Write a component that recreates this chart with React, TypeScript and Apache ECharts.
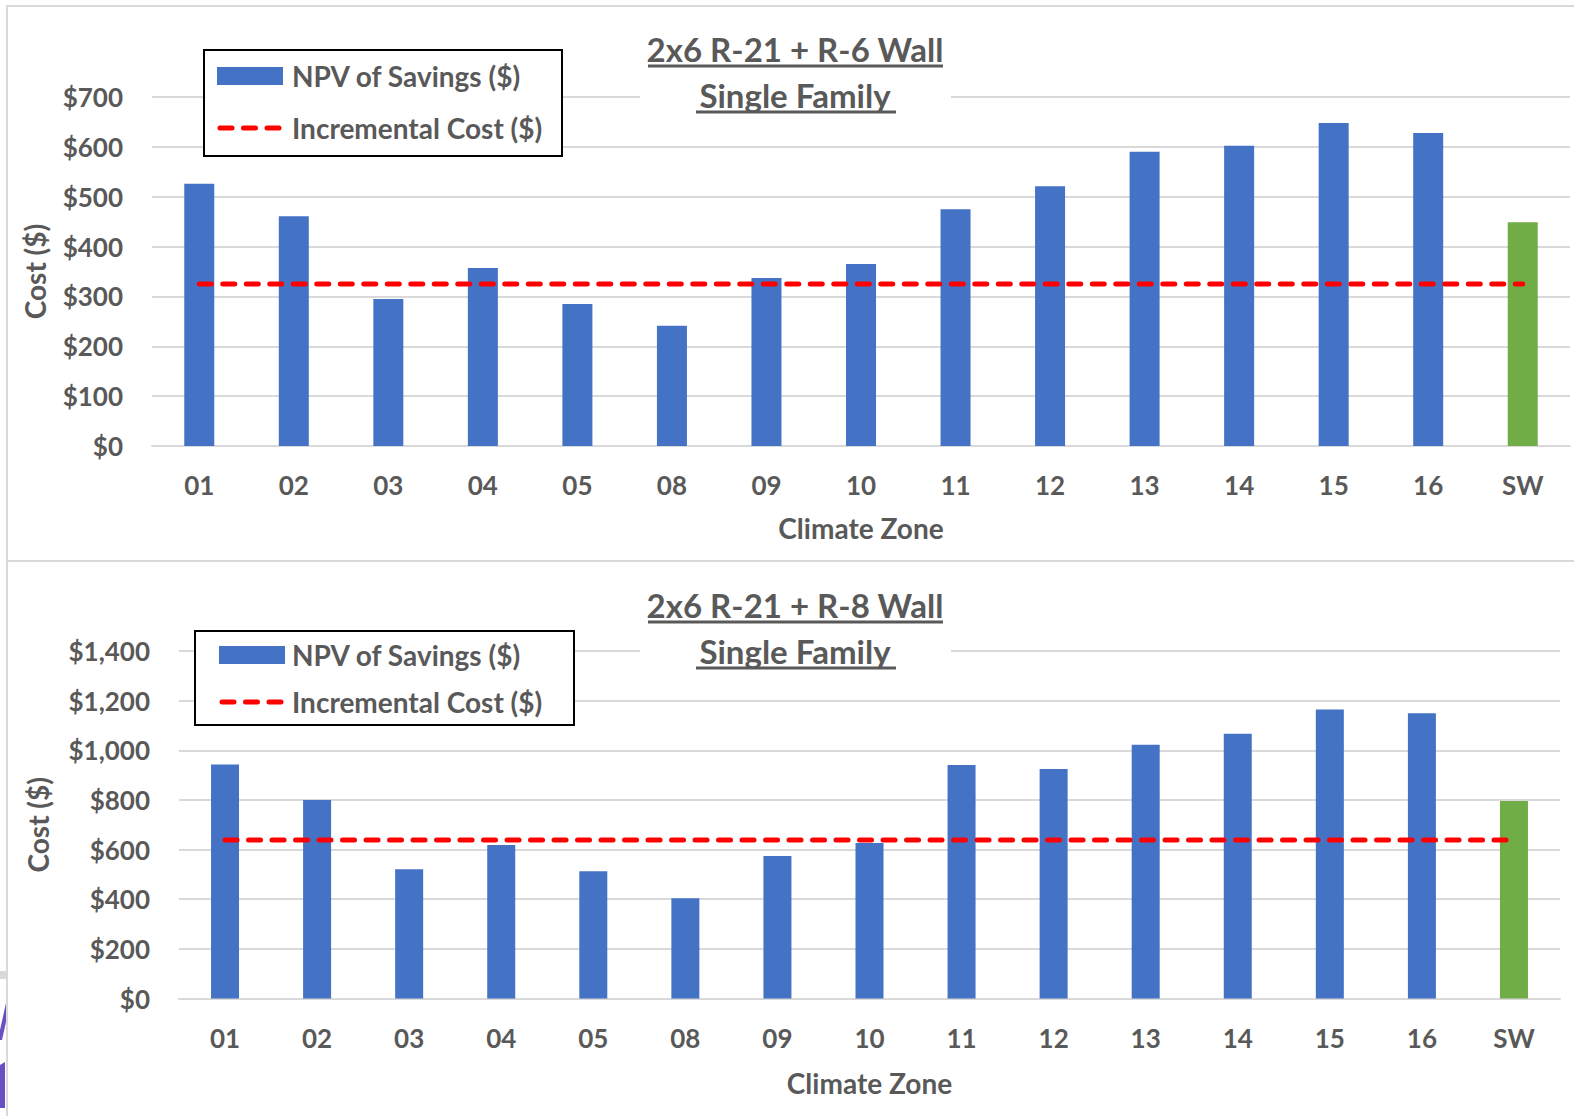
import React, { useEffect, useRef } from 'react';
import * as echarts from 'echarts';

const categories = ['01', '02', '03', '04', '05', '08', '09', '10', '11', '12', '13', '14', '15', '16', 'SW'];

const npvR6 = [526, 461, 295, 357, 285, 241, 337, 365, 475, 521, 590, 602, 648, 628, 449];
const costR6 = [325, 325, 325, 325, 325, 325, 325, 325, 325, 325, 325, 325, 325, 325, 325];

const npvR8 = [943, 800, 521, 618, 513, 404, 574, 626, 941, 925, 1022, 1067, 1164, 1149, 796];
const costR8 = [639, 639, 639, 639, 639, 639, 639, 639, 639, 639, 639, 639, 639, 639, 639];

const titlesTop = ['2x6 R-21 + R-6 Wall', 'Single Family'];
const titlesBottom = ['2x6 R-21 + R-8 Wall', 'Single Family'];
const legendNames = ['NPV of Savings ($)', 'Incremental Cost ($)'];
const xName = 'Climate Zone';
const yName = 'Cost ($)';

const W = 1574;
const H = 1116;
const GRAY = '#595959';
const GRID = '#d9d9d9';
const BLUE = '#4472C4';
const GREEN = '#70AD47';
const RED = '#FF0000';
const FONT = 'Lato, "Open Sans", sans-serif';

const money = (v: number) => '$' + v.toLocaleString('en-US');

function barData(vals: number[]) {
  return vals.map((v, i) => ({
    value: v,
    itemStyle: { color: categories[i] === 'SW' ? GREEN : BLUE },
  }));
}

function xAxisCfg(gridIndex: number, nameGap: number) {
  return {
    gridIndex,
    type: 'category',
    data: categories,
    axisLine: { lineStyle: { color: GRID, width: 2 } },
    axisTick: { show: false },
    axisLabel: { margin: 26, color: GRAY, fontFamily: FONT, fontWeight: 'bold', fontSize: 26 },
    name: xName,
    nameLocation: 'middle',
    nameGap,
    nameTextStyle: { color: GRAY, fontFamily: FONT, fontWeight: 'bold', fontSize: 28 },
  };
}

function yAxisCfg(gridIndex: number, max: number, interval: number, nameGap: number) {
  return {
    gridIndex,
    type: 'value',
    min: 0,
    max,
    interval,
    axisLine: { show: false },
    axisTick: { show: false },
    axisLabel: {
      margin: 29,
      formatter: (v: number) => money(v),
      color: GRAY,
      fontFamily: FONT,
      fontWeight: 'bold',
      fontSize: 26,
    },
    splitLine: { lineStyle: { color: GRID, width: 2 } },
    name: yName,
    nameLocation: 'middle',
    nameGap,
    nameRotate: 90,
    nameTextStyle: { color: GRAY, fontFamily: FONT, fontWeight: 'bold', fontSize: 28 },
  };
}

function titleBlock(lines: string[], cx: number, y1: number, y2: number, boxY: number, boxH: number) {
  const font = `bold 33px ${FONT}`;
  return [
    { type: 'rect', z: 20, shape: { x: 640, y: boxY, width: 311, height: boxH }, style: { fill: '#fff' } },
    { type: 'text', z: 21, style: { text: lines[0], x: cx, y: y1, textAlign: 'center', textVerticalAlign: 'middle', font, fill: GRAY } },
    { type: 'line', z: 21, shape: { x1: 648, y1: y1 + 17, x2: 943, y2: y1 + 17 }, style: { stroke: GRAY, lineWidth: 3 } },
    { type: 'text', z: 21, style: { text: lines[1], x: cx, y: y2, textAlign: 'center', textVerticalAlign: 'middle', font, fill: GRAY } },
    { type: 'line', z: 21, shape: { x1: 696, y1: y2 + 17, x2: 896, y2: y2 + 17 }, style: { stroke: GRAY, lineWidth: 3 } },
  ];
}

function legendBlock(bx: number, by: number, bw: number, bh: number, iconX: number, textX: number, yA: number, yB: number) {
  const font = `bold 28px ${FONT}`;
  return [
    { type: 'rect', z: 20, shape: { x: bx, y: by, width: bw, height: bh }, style: { fill: '#fff', stroke: '#000', lineWidth: 2 } },
    { type: 'rect', z: 21, shape: { x: iconX, y: yA - 9, width: 66, height: 18 }, style: { fill: BLUE } },
    { type: 'text', z: 21, style: { text: legendNames[0], x: textX, y: yA, textVerticalAlign: 'middle', font, fill: GRAY } },
    {
      type: 'line', z: 21,
      shape: { x1: iconX + 3, y1: yB, x2: iconX + 63, y2: yB },
      style: { stroke: RED, lineWidth: 5, lineDash: [12, 11.5], lineCap: 'round' },
    },
    { type: 'text', z: 21, style: { text: legendNames[1], x: textX, y: yB, textVerticalAlign: 'middle', font, fill: GRAY } },
  ];
}

export default function App() {
  const ref = useRef<HTMLDivElement>(null);

  useEffect(() => {
    if (!ref.current) return;
    const chart = echarts.init(ref.current, null, { renderer: 'svg', width: W, height: H });

    const lineStyle = { color: RED, width: 5, type: [12, 11.5], cap: 'round' };

    const option: any = {
      animation: false,
      backgroundColor: '#fff',
      grid: [
        { left: 152, right: 4, top: 97, height: 349 },
        { left: 179, right: 14, top: 651, height: 347.5 },
      ],
      xAxis: [xAxisCfg(0, 68), xAxisCfg(1, 70)],
      yAxis: [yAxisCfg(0, 700, 100, 103), yAxisCfg(1, 1400, 200, 127)],
      series: [
        { type: 'bar', name: legendNames[0], xAxisIndex: 0, yAxisIndex: 0, data: barData(npvR6), barWidth: 30, z: 2 },
        { type: 'line', name: legendNames[1], xAxisIndex: 0, yAxisIndex: 0, data: costR6, symbol: 'none', lineStyle, z: 3 },
        { type: 'bar', name: legendNames[0], xAxisIndex: 1, yAxisIndex: 1, data: barData(npvR8), barWidth: 28, z: 2 },
        { type: 'line', name: legendNames[1], xAxisIndex: 1, yAxisIndex: 1, data: costR8, symbol: 'none', lineStyle, z: 3 },
      ],
      graphic: [
        { type: 'line', z: 1, shape: { x1: 7, y1: 6, x2: W, y2: 6 }, style: { stroke: GRID, lineWidth: 2 } },
        { type: 'line', z: 1, shape: { x1: 7, y1: 5, x2: 7, y2: H }, style: { stroke: GRID, lineWidth: 2 } },
        { type: 'line', z: 1, shape: { x1: 7, y1: 561, x2: W, y2: 561 }, style: { stroke: GRID, lineWidth: 2 } },
        { type: 'rect', z: 1, shape: { x: 0, y: 971, width: 7, height: 8 }, style: { fill: GRID } },
        { type: 'polygon', z: 1, shape: { points: [[0, 1030], [6, 1003], [6, 1022], [2, 1040], [0, 1040]] }, style: { fill: '#6a4fc4' } },
        { type: 'polygon', z: 1, shape: { points: [[0, 1065], [5, 1062], [5, 1108], [0, 1108]] }, style: { fill: '#6a4fc4' } },
        ...titleBlock(titlesTop, 795, 49, 95, 22, 95),
        ...titleBlock(titlesBottom, 795, 605, 651, 578, 100),
        ...legendBlock(204, 50, 358, 106, 217, 292, 76, 128),
        ...legendBlock(195, 631, 379, 94, 219, 292, 655, 702),
      ],
    };

    chart.setOption(option);
    return () => chart.dispose();
  }, []);

  return (
    <div
      ref={ref}
      style={{ position: 'fixed', left: 0, top: 0, width: W, height: H, background: '#fff' }}
    />
  );
}
